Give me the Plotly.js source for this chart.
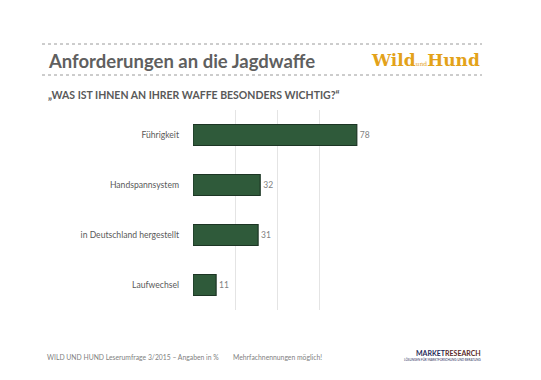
<!DOCTYPE html>
<html><head><meta charset="utf-8">
<script src="https://cdn.plot.ly/plotly-3.0.1.min.js"></script>
<style>html,body{margin:0;padding:0;background:#fff;}#chart{width:541px;height:380px;}</style>
</head><body><div id="chart"></div>
<script>
const categories = ["Führigkeit", "Handspannsystem", "in Deutschland hergestellt", "Laufwechsel"];
const values = [78, 32, 31, 11];
const xTicks = [0, 20, 40, 60, 80];

const FONT = "Lato, 'Open Sans', sans-serif";

const trace = {
  type: "bar",
  orientation: "h",
  y: categories,
  x: values,
  width: 0.42,
  text: values.map(String),
  textposition: "outside",
  cliponaxis: false,
  textfont: {family: FONT, size: 8.5, color: "#7f7f7f"},
  marker: {color: "#2f5a3a", line: {color: "#1c3524", width: 1.2}},
  hoverinfo: "none"
};

const dotted = (y) => ({type: "line", xref: "paper", yref: "paper",
  x0: (42-193)/168, x1: (482-193)/168, y0: y, y1: y,
  line: {color: "#9a9a9a", width: 1, dash: "dot"}});

const yp = (py) => (380 - 70 - py) / 200; // pixel -> paper y (plot top 110, bottom 310)
const xp = (px) => (px - 193) / 168;

const layout = {
  width: 541, height: 380,
  margin: {l: 193, r: 180, t: 110, b: 70},
  paper_bgcolor: "#ffffff", plot_bgcolor: "#ffffff",
  showlegend: false,
  bargap: 0.58,
  xaxis: {range: [0, 80], tickvals: xTicks, showticklabels: false, showgrid: true,
    gridcolor: "#e4e4e4", gridwidth: 1, zeroline: false, showline: false, fixedrange: true},
  yaxis: {autorange: "reversed", showgrid: false, zeroline: false, showline: false,
    ticklabelstandoff: 13, tickfont: {family: FONT, size: 8.6, color: "#595959"}, fixedrange: true},
  shapes: [dotted(yp(44)), dotted(yp(75))],
  annotations: [
    {xref: "paper", yref: "paper", x: xp(46), y: yp(61), xanchor: "left", yanchor: "middle",
     text: "<b>Anforderungen an die Jagdwaffe</b>", showarrow: false,
     font: {family: FONT, size: 18.5, color: "#5f5f5f"}},
    {xref: "paper", yref: "paper", x: xp(46), y: yp(95), xanchor: "left", yanchor: "middle",
     text: "<b>„WAS IST IHNEN AN IHRER WAFFE BESONDERS WICHTIG?“</b>", showarrow: false,
     font: {family: FONT, size: 10.5, color: "#595959"}},
    {xref: "paper", yref: "paper", x: xp(482), y: yp(60), xanchor: "right", yanchor: "middle",
     text: "<b>Wild</b><span style='font-size:6px'>und</span><b>Hund</b>", showarrow: false,
     font: {family: "'DejaVu Serif', serif", size: 17, color: "#e3a21a"}},
    {xref: "paper", yref: "paper", x: xp(45), y: yp(357), xanchor: "left", yanchor: "middle",
     text: "WILD UND HUND Leserumfrage 3/2015 – Angaben in %", showarrow: false,
     font: {family: FONT, size: 6.8, color: "#7f7f7f"}},
    {xref: "paper", yref: "paper", x: xp(231), y: yp(357), xanchor: "left", yanchor: "middle",
     text: "Mehrfachnennungen möglich!", showarrow: false,
     font: {family: FONT, size: 6.8, color: "#7f7f7f"}},
    {xref: "paper", yref: "paper", x: xp(483), y: yp(353), xanchor: "right", yanchor: "middle",
     text: "<b>MARKET</b><b style='color:#5a2a2a'>RESEARCH</b>", showarrow: false,
     font: {family: FONT, size: 7, color: "#1f2a5a"}},
    {xref: "paper", yref: "paper", x: xp(483), y: yp(359), xanchor: "right", yanchor: "middle",
     text: "LÖSUNGEN FÜR MARKTFORSCHUNG UND BERATUNG", showarrow: false,
     font: {family: FONT, size: 3, color: "#1f2a5a"}}
  ]
};

Plotly.newPlot("chart", [trace], layout, {displayModeBar: false, staticPlot: true});
</script>
</body></html>
